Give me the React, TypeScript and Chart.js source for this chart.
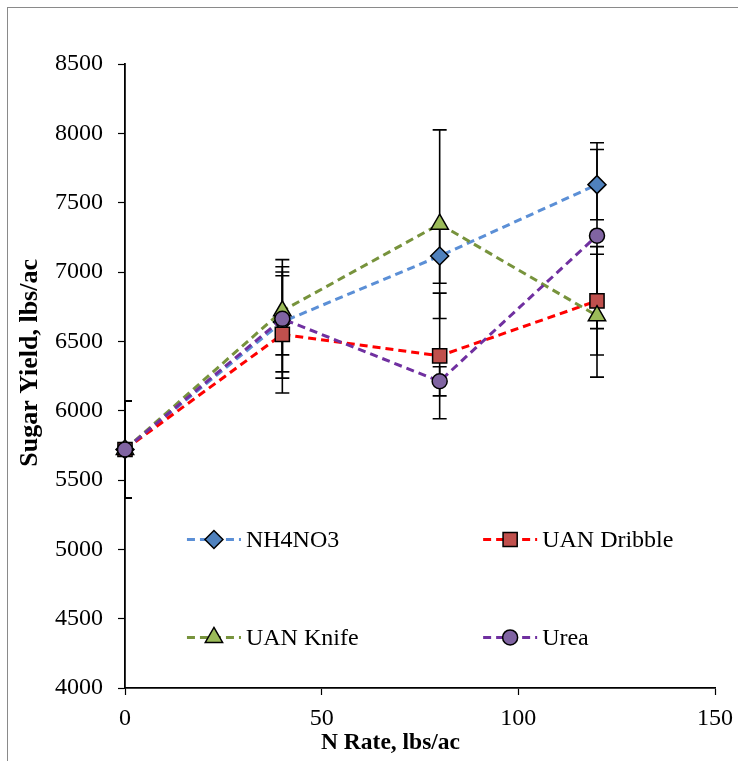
import React, { useEffect, useRef } from 'react';
import { Chart, registerables } from 'chart.js';
import { drawPoint } from 'chart.js/helpers';

Chart.register(...registerables);

const nRates = [0, 40, 80, 120];
const seriesNames = ['NH4NO3', 'UAN Dribble', 'UAN Knife', 'Urea'];
const nh4no3 = [5720, 6640, 7115, 7630];
const nh4no3Err = [350, 360, 196, 253];
const uanDribble = [5720, 6550, 6395, 6792];
const uanDribbleErr = [350, 423, 453, 391];
const uanKnife = [5720, 6720, 7345, 6685];
const uanKnifeErr = [350, 318, 680, 443];
const urea = [5720, 6662, 6212, 7262];
const ureaErr = [350, 427, 105, 670];

const xMin = 0;
const xMax = 150;
const xStep = 50;
const yMin = 4000;
const yMax = 8500;
const yStep = 500;

const xTitle = 'N Rate, lbs/ac';
const yTitle = 'Sugar Yield, lbs/ac';

const FONT = "'Liberation Serif', 'Times New Roman', serif";

const seriesValues = [nh4no3, uanDribble, uanKnife, urea];
const seriesErrors = [nh4no3Err, uanDribbleErr, uanKnifeErr, ureaErr];
const lineColors = ['#5B8FD6', '#FF0000', '#77933C', '#7030A0'];
const fillColors = ['#4F81BD', '#C0504D', '#9BBB59', '#8064A2'];
const markerStyles = ['rectRot', 'rect', 'triangle', 'circle'];
const markerRadius = [9, 10, 10, 7.5];
const drawOrder = [3, 2, 1, 0];

const errorBarPlugin = {
  id: 'errorBars',
  beforeDatasetsDraw(chart: any) {
    const { ctx, chartArea, scales } = chart;
    const xs = scales.x;
    const ys = scales.y;
    ctx.save();
    ctx.beginPath();
    ctx.rect(chartArea.left, chartArea.top - 20, chartArea.right - chartArea.left, chartArea.bottom - chartArea.top + 20);
    ctx.clip();
    ctx.strokeStyle = '#000000';
    ctx.lineWidth = 1.6;
    ctx.setLineDash([]);
    const cap = 7;
    seriesValues.forEach((vals, si) => {
      vals.forEach((v, i) => {
        const e = seriesErrors[si][i];
        const px = xs.getPixelForValue(nRates[i]);
        const pt = ys.getPixelForValue(v + e);
        const pb = ys.getPixelForValue(v - e);
        ctx.beginPath();
        ctx.moveTo(px, pt);
        ctx.lineTo(px, pb);
        ctx.moveTo(px - cap, pt);
        ctx.lineTo(px + cap, pt);
        ctx.moveTo(px - cap, pb);
        ctx.lineTo(px + cap, pb);
        ctx.stroke();
      });
    });
    ctx.restore();
  },
};

const legendPlugin = {
  id: 'insideLegend',
  afterDatasetsDraw(chart: any) {
    const { ctx, chartArea } = chart;
    const w = chartArea.right - chartArea.left;
    const h = chartArea.bottom - chartArea.top;
    const cols = [chartArea.left + w * 0.105, chartArea.left + w * 0.607];
    const rows = [chartArea.top + h * 0.762, chartArea.top + h * 0.919];
    const lineLen = 54;
    chart.data.datasets.forEach((ds: any, i: number) => {
      const x0 = cols[i % 2];
      const y0 = rows[Math.floor(i / 2)];
      ctx.save();
      ctx.strokeStyle = ds.borderColor;
      ctx.lineWidth = ds.borderWidth;
      ctx.setLineDash(ds.borderDash);
      ctx.beginPath();
      ctx.moveTo(x0, y0);
      ctx.lineTo(x0 + lineLen, y0);
      ctx.stroke();
      ctx.setLineDash([]);
      ctx.fillStyle = ds.pointBackgroundColor;
      ctx.strokeStyle = ds.pointBorderColor;
      ctx.lineWidth = ds.pointBorderWidth;
      drawPoint(ctx, { pointStyle: ds.pointStyle, radius: ds.pointRadius, rotation: 0, borderWidth: ds.pointBorderWidth }, x0 + lineLen / 2, y0);
      ctx.fillStyle = '#000000';
      ctx.font = `24px ${FONT}`;
      ctx.textBaseline = 'middle';
      ctx.textAlign = 'left';
      ctx.fillText(ds.label, x0 + lineLen + 5, y0 + 1);
      ctx.restore();
    });
  },
};

const axisTitlePlugin = {
  id: 'axisTitles',
  afterDraw(chart: any) {
    const { ctx, chartArea } = chart;
    ctx.save();
    ctx.fillStyle = '#000000';
    ctx.textAlign = 'center';
    ctx.textBaseline = 'middle';
    ctx.font = `bold 23.5px ${FONT}`;
    ctx.fillText(xTitle, chartArea.left + (chartArea.right - chartArea.left) * 0.45, chartArea.bottom + 55);
    ctx.translate(30, chartArea.top + (chartArea.bottom - chartArea.top) * 0.479);
    ctx.rotate(-Math.PI / 2);
    ctx.font = `bold 26px ${FONT}`;
    ctx.fillText(yTitle, 0, 0);
    ctx.restore();
  },
};

export default function App() {
  const canvasRef = useRef<HTMLCanvasElement | null>(null);

  useEffect(() => {
    if (!canvasRef.current) return;
    const datasets = seriesNames.map((name, si) => ({
      label: name,
      data: seriesValues[si].map((v, i) => ({ x: nRates[i], y: v })),
      borderColor: lineColors[si],
      backgroundColor: fillColors[si],
      borderWidth: 3,
      borderDash: [8, 5],
      pointStyle: markerStyles[si],
      pointRadius: markerRadius[si],
      pointHoverRadius: markerRadius[si],
      pointBackgroundColor: fillColors[si],
      pointBorderColor: '#000000',
      pointBorderWidth: 1.5,
      tension: 0,
      fill: false,
      clip: false,
      order: drawOrder[si],
    }));
    const chart = new Chart(canvasRef.current, {
      type: 'line',
      data: { datasets },
      options: {
        animation: false,
        responsive: false,
        maintainAspectRatio: false,
        layout: { padding: { left: 0, top: 64, right: 23, bottom: 0 } },
        plugins: {
          legend: { display: false },
          tooltip: { enabled: false },
        },
        scales: {
          x: {
            type: 'linear',
            min: xMin,
            max: xMax,
            ticks: {
              stepSize: xStep,
              color: '#000000',
              font: { family: FONT, size: 24 },
              padding: 9,
              maxRotation: 0,
              callback: (v: any) => String(v),
            },
            grid: {
              drawOnChartArea: false,
              drawTicks: true,
              tickLength: 7,
              tickColor: '#000000',
              tickWidth: 1.2,
            },
            border: { color: '#000000', width: 1.8 },
            title: { display: false, text: xTitle },
            afterFit: (scale: any) => {
              scale.height = 73;
              scale.paddingRight = 0;
              scale.paddingLeft = 0;
            },
          },
          y: {
            type: 'linear',
            min: yMin,
            max: yMax,
            ticks: {
              stepSize: yStep,
              color: '#000000',
              font: { family: FONT, size: 24 },
              padding: 15,
              callback: (v: any) => String(v),
            },
            grid: {
              drawOnChartArea: false,
              drawTicks: true,
              tickLength: 7,
              tickColor: '#000000',
              tickWidth: 1.2,
            },
            border: { color: '#000000', width: 1.8 },
            title: { display: false, text: yTitle },
            afterFit: (scale: any) => {
              scale.width = 125;
            },
          },
        },
      },
      plugins: [errorBarPlugin, legendPlugin, axisTitlePlugin],
    } as any);
    return () => chart.destroy();
  }, []);

  return (
    <div style={{ position: 'absolute', left: 0, top: 0, width: 738, height: 761, overflow: 'hidden', background: '#ffffff' }}>
      <div style={{ position: 'absolute', left: 7, top: 7, width: 900, height: 900, borderLeft: '1px solid #8a8a8a', borderTop: '1px solid #8a8a8a' }} />
      <canvas ref={canvasRef} width={738} height={761} style={{ position: 'absolute', left: 0, top: 0, width: 738, height: 761 }} />
    </div>
  );
}
